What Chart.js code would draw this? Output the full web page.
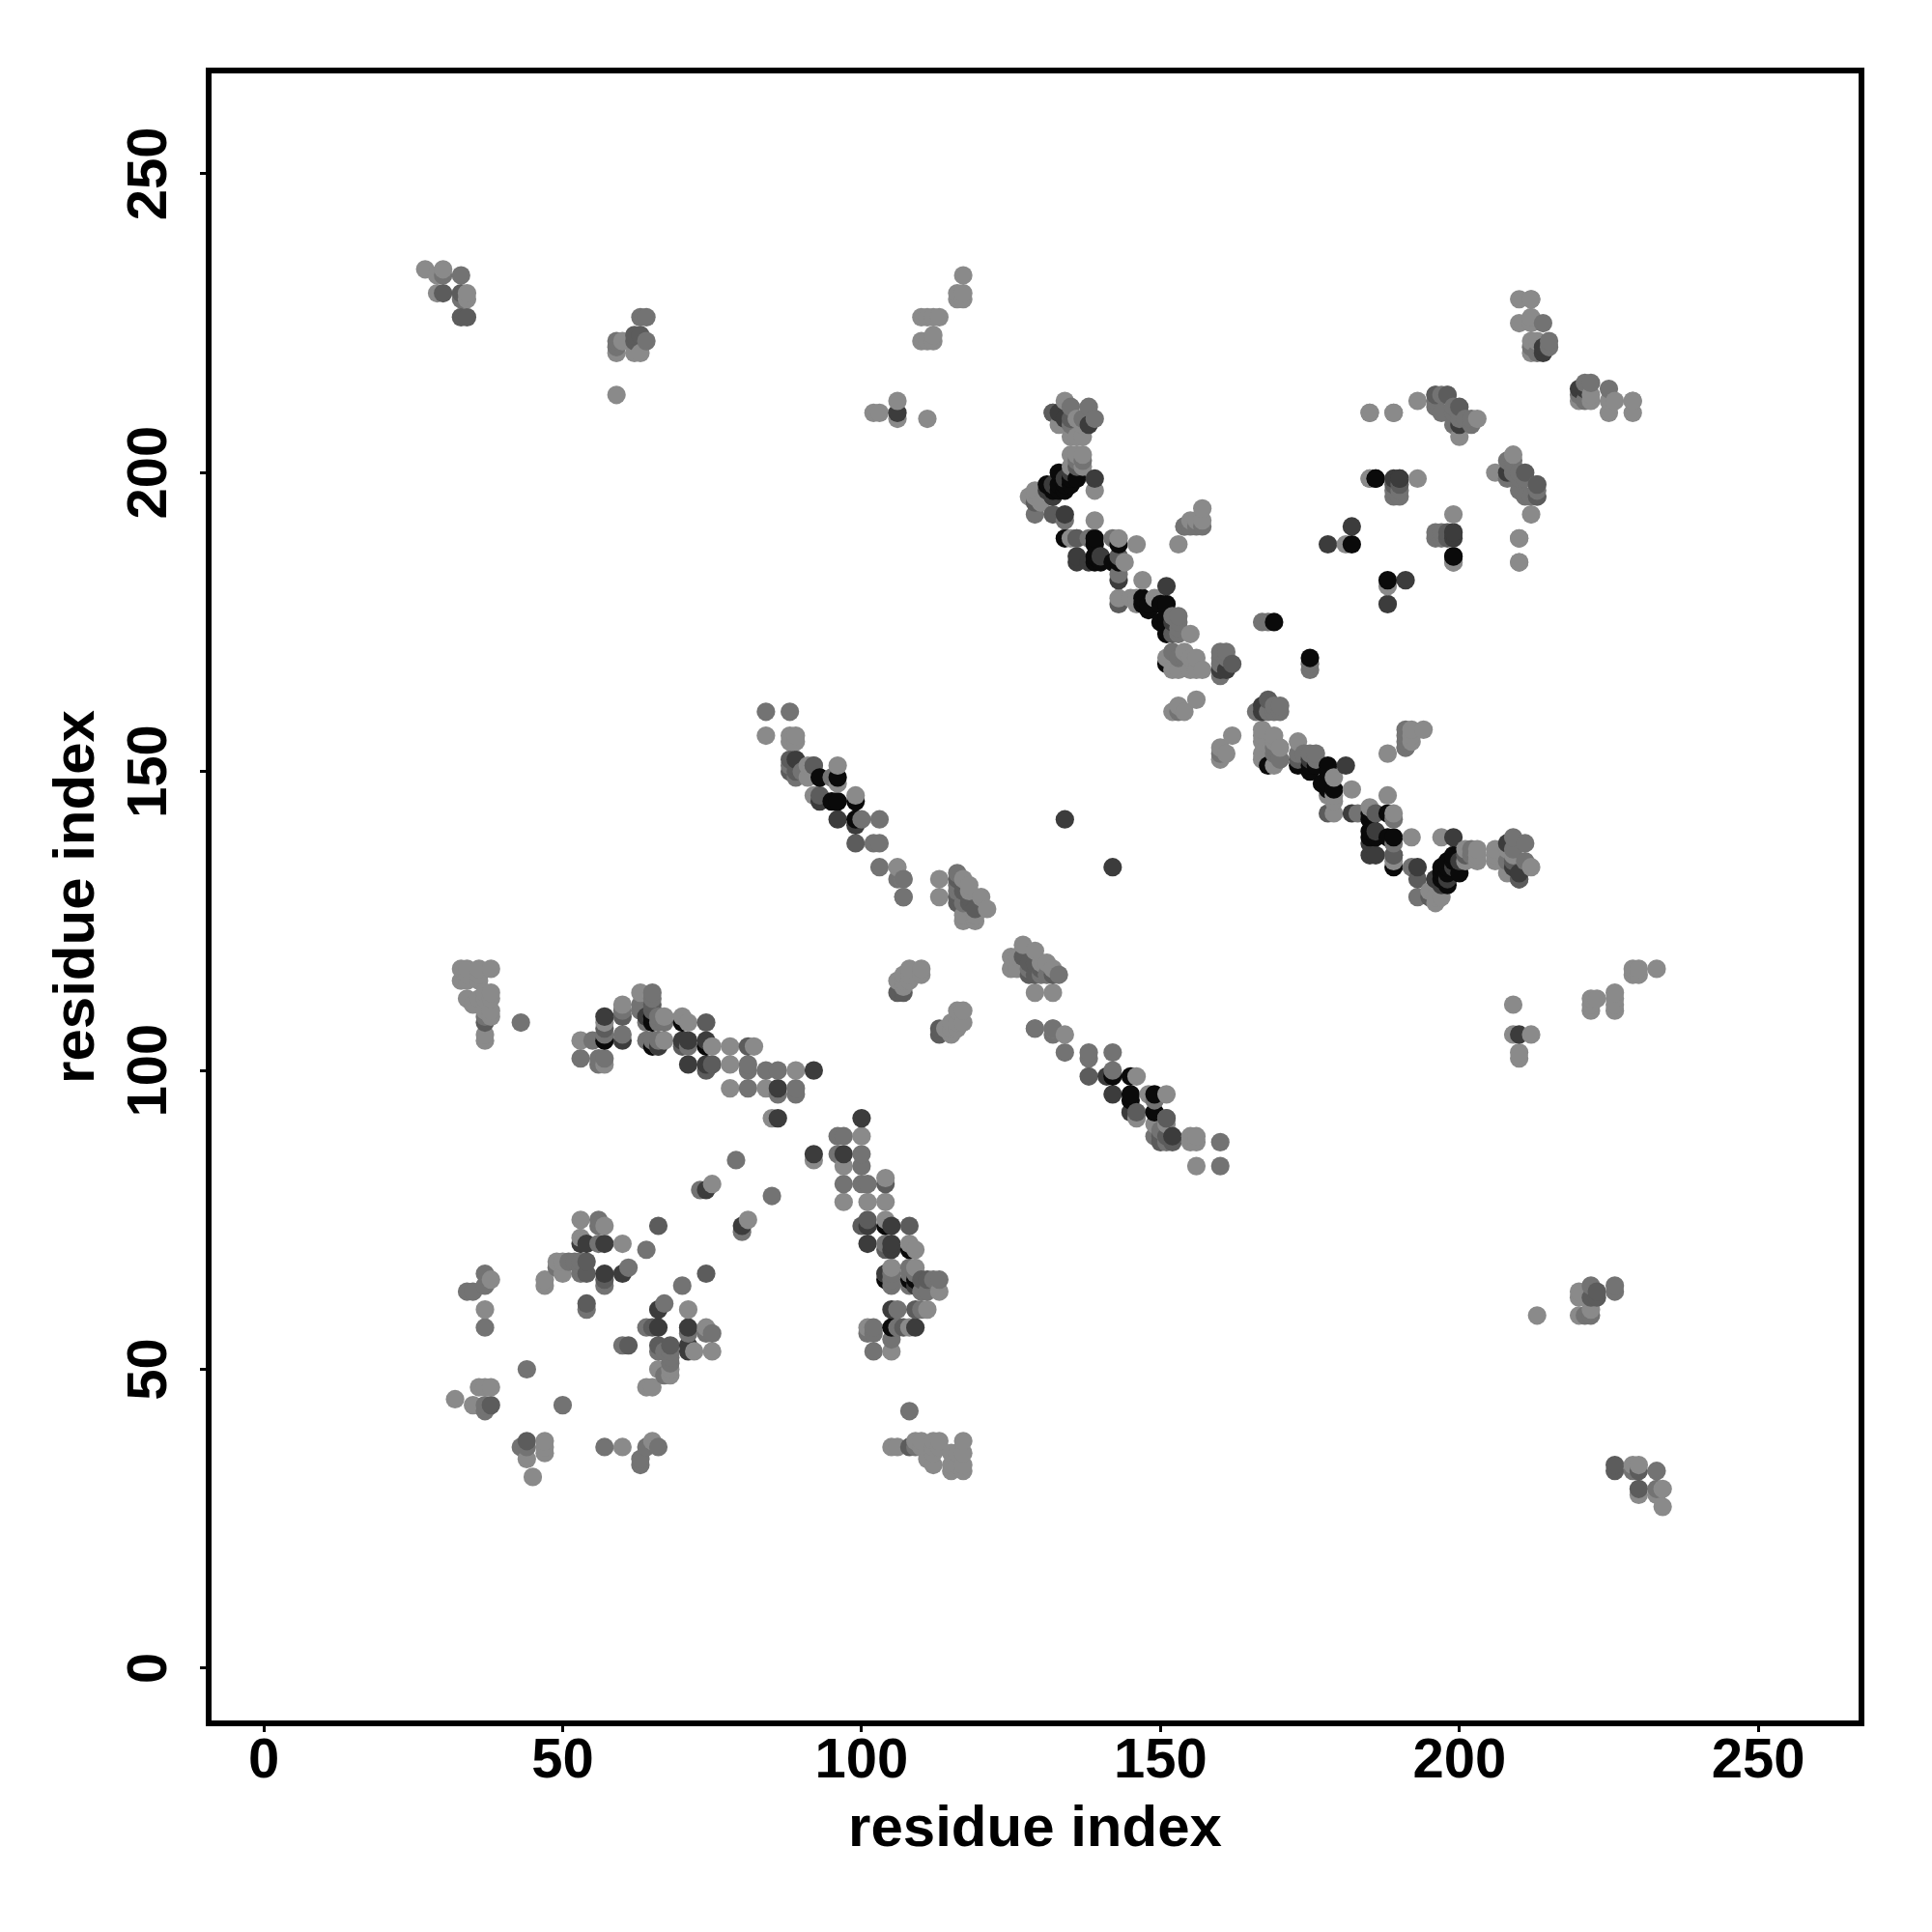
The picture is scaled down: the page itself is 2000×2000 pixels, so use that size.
<!DOCTYPE html>
<html>
<head>
<meta charset="utf-8">
<title>residue contact map</title>
<script src="https://cdn.jsdelivr.net/npm/chart.js@4"></script>
<style>
  html, body { margin: 0; padding: 0; background: #fff; }
  canvas { display: block; }
</style>
</head>
<body>
<canvas id="contactMap" width="2000" height="2000"></canvas>
<script>
const tickValues = [0, 50, 100, 150, 200, 250];
const axisLabel = 'residue index';

// residue pairs (i, j), grouped by how dark the dot is. a pair shows up at (i,j) and (j,i)
const lightPairs = [[27,234],[29,233],[30,234],[29,230],[34,230],[34,229],[59,213],[59,220],[62,220],[63,220],[60,222],
[117,233],[116,230],[117,230],[116,229],[117,229],[110,226],[111,226],[112,226],[113,226],[110,222],[111,222],[112,222],[112,223],
[102,210],[103,210],[106,212],[106,209],[111,209],
[84,156],[88,156],[89,156],[88,155],[89,155],[91,151],[96,151],[92,146],[99,146],[96,148],[106,134],[107,132],[91,149],
[121,127],[120,129],[118,131],[117,132],[119,126],[117,126],[119,125],[117,125],[113,129],[113,132],[118,130],
[107,116],[108,117],[110,117],[107,115],[110,116],[106,115],[107,114],[108,115],[108,116],
[33,117],[34,117],[36,117],[38,117],[33,115],[34,116],[36,116],[36,115],[34,115],[34,112],[35,111],[37,113],[38,113],[37,112],[36,112],[38,110],[37,110],[38,109],[37,106],[37,105],[38,112],
[53,105],[60,111],[63,113],[67,105],[67,109],[71,108],[75,104],[78,104],[82,104],[78,101],[78,97],[84,97],[89,100],[85,92],[57,101],[57,108],[66,104],[70,109],
[75,81],[53,75],[57,74],[49,68],[50,68],[50,66],[47,65],[47,64],[38,65],[37,60],[60,71],[53,72],
[36,47],[37,47],[38,47],[32,45],[35,44],
[134,212],[133,208],[136,209],[137,208],[135,206],[136,206],[137,206],[135,203],[136,203],[137,203],[139,197],[128,196],[129,197],[139,192],[135,189],[143,189],[146,188],[144,185],[146,179],[147,182],[149,179],[146,178],[145,179],[143,179],
[130,195],[129,196],[135,201],[137,201],
[153,188],[157,194],[156,192],[155,192],[157,192],[154,191],
[155,173],[151,169],[154,170],[155,169],[156,169],[152,167],[153,167],[155,167],[156,167],[157,167],[156,162],[153,161],[152,160],[154,160],
[185,210],[189,210],[193,212],[200,206],[203,209],[185,199],[193,199],
[210,229],[212,229],[210,225],[212,226],[212,225],[212,222],[213,222],[212,220],[229,212],[181,188],
[210,189],[210,185],[199,185]];

const softPairs = [[30,233],[33,233],[33,229],[63,226],[64,226],[59,221],[64,222],[59,222],
[84,160],[88,160],[88,151],[90,150],[95,149],[103,142],[100,142],[102,138],[103,138],[103,134],[106,132],[107,129],[89,149],[92,151],
[116,133],[116,130],[116,131],[117,128],[107,129],[107,132],
[37,109],[43,108],
[55,105],[53,102],[57,102],[56,101],[56,102],[57,106],[60,106],[60,110],[63,110],[63,111],[65,112],[65,113],[64,105],[65,105],[64,108],[66,105],[66,108],[66,109],[67,108],[81,101],[81,100],[81,97],[84,100],[86,100],[89,97],[89,96],[86,96],[71,104],
[73,80],[79,85],[56,75],[53,66],[53,68],[52,68],[51,68],[54,60],[57,64],[56,74],[61,67],[56,71],[64,70],[53,67],[49,67],
[34,63],[35,63],[37,66],[37,64],[37,57],[44,50],[37,44],[37,43],
[135,211],[138,211],[139,209],[135,208],[137,209],[136,202],[137,202],[134,192],[138,189],[142,189],[143,183],[129,193],
[155,191],[156,191],[157,191],[191,154],
[152,176],[153,176],[153,175],[153,173],[152,170],[153,169],[160,170],[161,170],[160,169],[160,166],[167,175],[168,175],[153,160],[160,168],[161,169],[154,169],[153,174],
[196,213],[197,213],[198,213],[196,211],[197,210],[200,210],[200,209],[199,208],[202,209],[202,208],[189,197],[190,197],[189,196],[190,196],[201,209],[199,210],[199,211],[196,212],
[214,225],[212,221],[215,222],[215,221],[213,220]];

const midPairs = [[30,230],[33,230],[33,226],[34,226],[62,223],[63,223],[62,222],
[88,152],[89,150],[92,151],[93,146],[99,138],[89,151],[88,150],
[116,128],[118,129],[116,132],[119,127],[118,128],[116,129],[117,130],
[106,113],[107,113],[37,108],
[60,109],[57,107],[65,111],[70,104],[74,108],[74,100],[81,104],[75,101],[65,110],
[54,68],[54,66],[54,61],[57,65],[66,74],
[38,44],
[132,210],[136,189],[136,201],[135,209],[132,193],[143,186],[129,195],[143,178],
[162,168],[152,173],[189,136],
[200,211],[189,198],[190,198],[213,198],[213,196],
[210,132]];

const darkPairs = [[106,210],[89,152],[93,145],[96,142],[99,141],
[57,109],[60,105],[64,109],[70,105],[71,105],[74,105],[74,101],[86,97],[92,100],[86,92],[71,101],[66,104],
[74,80],[53,71],[54,71],[57,71],[57,66],[60,66],
[133,210],[134,193],[134,199],[135,200],[136,186],[136,185],[140,186],[143,182],[151,181],[139,199],[134,209],[138,185],[138,208],
[132,196],[131,197],[132,198],
[152,175],[160,167],[161,167],
[189,199],[190,199],[200,208],[199,190],[214,221],[214,220],[178,188],[182,191],[134,142],[196,132]];

const blackPairs = [[93,149],[96,149],[95,145],[96,145],[99,145],[99,142],[57,105],[65,109],[74,104],[65,104],[65,108],[70,108],
[133,200],[136,199],[132,197],[133,197],[134,197],[133,198],[134,198],[135,199],[135,198],[131,198],[134,189],[139,189],[139,188],[143,188],[139,186],[139,185],[140,185],[143,185],[142,185],
[147,179],[147,178],[148,178],[150,178],[151,178],[150,175],[151,175],[151,176],[148,177],[151,173],[151,168],
[169,175],[186,199],[199,186],[182,188]];

// one colour per shade group, plotted in the same order as R: by x, then by y
const shadeGroups = [
  { pairs: lightPairs, colour: '#8a8a8a' },
  { pairs: softPairs, colour: '#737373' },
  { pairs: midPairs, colour: '#5c5c5c' },
  { pairs: darkPairs, colour: '#3c3c3c' },
  { pairs: blackPairs, colour: '#0a0a0a' }
];

const dots = [];
shadeGroups.forEach(group => {
  group.pairs.forEach(([i, j]) => {
    dots.push({ x: i, y: j, colour: group.colour });
    dots.push({ x: j, y: i, colour: group.colour });
  });
});
dots.sort((a, b) => a.x - b.x || a.y - b.y);

const framePlugin = {
  id: 'frame',
  afterDraw(chart) {
    const { ctx, chartArea: a } = chart;
    ctx.save();
    ctx.strokeStyle = '#000';
    ctx.lineWidth = 6;
    ctx.lineJoin = 'miter';
    ctx.strokeRect(a.left, a.top, a.right - a.left, a.bottom - a.top);
    ctx.restore();
  }
};

function axisOptions(size, extra) {
  return {
    type: 'linear',
    min: -9.22,
    max: 267.26,
    afterBuildTicks: scale => { scale.ticks = tickValues.map(v => ({ value: v })); },
    afterFit: scale => { scale[size] = 216; },
    border: { display: false },
    grid: { drawOnChartArea: false, drawTicks: true, tickLength: 9, tickWidth: 3, tickColor: '#000' },
    title: {
      display: true,
      text: axisLabel,
      color: '#000',
      font: { family: '"Liberation Sans"', size: 60, weight: 'bold' },
      padding: extra.titlePadding
    },
    ticks: Object.assign({
      color: '#000',
      autoSkip: false,
      font: { family: '"Liberation Sans"', size: 58, weight: 'bold' }
    }, extra.ticks)
  };
}

new Chart(document.getElementById('contactMap').getContext('2d'), {
  type: 'scatter',
  data: {
    datasets: [{
      data: dots,
      pointRadius: 9.6,
      pointBorderWidth: 0,
      pointBackgroundColor: dots.map(d => d.colour)
    }]
  },
  options: {
    responsive: false,
    animation: false,
    devicePixelRatio: 1,
    layout: { padding: { top: 73, right: 73, left: 0, bottom: 0 } },
    plugins: { legend: { display: false }, tooltip: { enabled: false } },
    scales: {
      x: axisOptions('height', { titlePadding: { top: 0, bottom: 70 }, ticks: { padding: -4, maxRotation: 0, minRotation: 0 } }),
      y: axisOptions('width', { titlePadding: { top: 44, bottom: 0 }, ticks: { padding: 3, minRotation: 90, maxRotation: 90, crossAlign: 'center' } })
    }
  },
  plugins: [framePlugin]
});
</script>
</body>
</html>
